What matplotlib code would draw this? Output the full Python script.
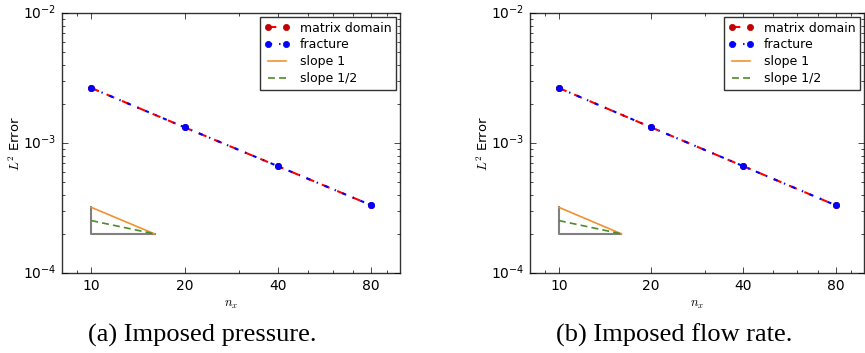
import matplotlib
matplotlib.use("Agg")
import matplotlib.pyplot as plt
from matplotlib.ticker import FixedLocator, FixedFormatter, NullFormatter

plt.style.use("classic")
plt.rcParams["font.family"] = ["DejaVu Sans"]
plt.rcParams["mathtext.fontset"] = "dejavusans"

nx = [10, 20, 40, 80]
xtick_labels = ["10", "20", "40", "80"]
err_matrix_a = [2.65e-3, 1.32e-3, 6.63e-4, 3.32e-4]
err_fracture_a = [2.65e-3, 1.32e-3, 6.63e-4, 3.32e-4]
err_matrix_b = [2.65e-3, 1.32e-3, 6.63e-4, 3.32e-4]
err_fracture_b = [2.65e-3, 1.32e-3, 6.63e-4, 3.32e-4]
tri_x = [10, 16]
tri_base = 2e-4
captions = ["(a) Imposed pressure.", "(b) Imposed flow rate."]

W, H = 865, 353
fig = plt.figure(figsize=(W / 100, H / 100), dpi=100, facecolor="white")

def box(x0, y0, x1, y1):
    return [x0 / W, 1 - y1 / H, (x1 - x0) / W, (y1 - y0) / H]

panels = [
    (62, 400, err_matrix_a, err_fracture_a, captions[0], 202, 15),
    (530, 864, err_matrix_b, err_fracture_b, captions[1], 674, 483),
]

for x0, x1, em, ef, cap, capx, ylx in panels:
    ax = fig.add_axes(box(x0, 13, x1, 273))
    ax.set_facecolor("white")
    ax.set_xscale("log")
    ax.set_yscale("log")
    ax.plot(nx, em, color="red", linestyle="--", marker="o", markersize=4.5,
            markeredgecolor="#c00000", markerfacecolor="#c00000", linewidth=1.5,
            label="matrix domain")
    ax.plot(nx, ef, color="blue", linestyle="-.", marker="o", markersize=4.5,
            markeredgecolor="blue", markerfacecolor="blue", linewidth=1.5,
            label="fracture")
    # slope triangle
    s1 = [tri_base * (tri_x[1] / tri_x[0]), tri_base]
    s2 = [tri_base * (tri_x[1] / tri_x[0]) ** 0.5, tri_base]
    ax.plot([tri_x[0], tri_x[0], tri_x[1]], [s1[0], tri_base, tri_base],
            color="gray", linewidth=1.5)
    ax.plot(tri_x, s1, color="#f0922e", linestyle="-", linewidth=1.2, label="slope 1")
    ax.plot(tri_x, s2, color="#4c8c2b", linestyle="--", dashes=(5, 3),
            linewidth=1.2, label="slope 1/2")
    ax.set_xlim(8.05, 99)
    ax.set_ylim(1e-4, 1e-2)
    ax.xaxis.set_major_locator(FixedLocator(nx))
    ax.xaxis.set_major_formatter(FixedFormatter(xtick_labels))
    ax.xaxis.set_minor_formatter(NullFormatter())
    ax.tick_params(labelsize=10, direction="in", top=True, right=True)
    for sp in ax.spines.values():
        sp.set_color("#333333")
    ax.set_ylabel(r"$L^2$ Error", fontsize=9.5, math_fontfamily="cm")
    ax.yaxis.set_label_coords((ylx - x0) / (x1 - x0), 0.5)
    ax.yaxis.label.set_va("center")
    ax.set_xlabel(r"$n_x$", fontsize=9, labelpad=4, math_fontfamily="cm")
    leg = ax.legend(loc="upper right", fontsize=9, numpoints=2, handlelength=2.0,
                    borderaxespad=0.3, labelspacing=0.3, framealpha=1)
    leg.get_frame().set_edgecolor("#333333")
    fig.text(capx / W, 1 - 342 / H, cap, ha="center", va="baseline",
             family="Liberation Serif", fontsize=19)

fig.savefig("out.png", dpi=100, facecolor="white")
